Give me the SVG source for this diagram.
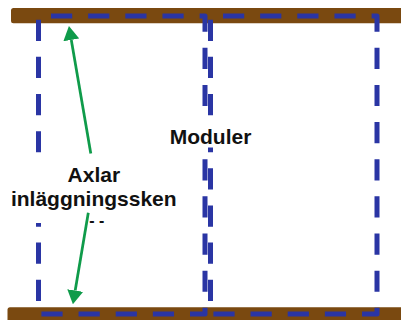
<svg xmlns="http://www.w3.org/2000/svg" width="401" height="320" viewBox="0 0 401 320">
  <style>
    .rail { fill: #7a4910; }
    .module { fill: none; stroke: #2a35a4; stroke-width: 5; stroke-dasharray: 21.2 15.95; stroke-dashoffset: 24.65; stroke-linejoin: round; }
    .pointer { fill: none; stroke: #0f9b4a; stroke-width: 2.75; }
    .label { font-family: "Liberation Sans", Arial, sans-serif; font-weight: bold; font-size: 21px; fill: #111111; text-anchor: middle; }
  </style>
  <defs>
    <marker id="head" viewBox="0 0 14 16" refX="0" refY="8" markerWidth="14" markerHeight="16" markerUnits="userSpaceOnUse" orient="auto">
      <path d="M0,0 L14,8 L0,16 z" fill="#0f9b4a"/>
    </marker>
  </defs>
  <rect width="401" height="320" fill="#ffffff"/>

  <!-- rails -->
  <g id="rail-top">
    <rect class="rail" x="11" y="8" width="395" height="15.3" rx="2.5"/>
  </g>
  <g id="rail-bottom">
    <rect class="rail" x="7.5" y="307.3" width="398" height="20" rx="2.5"/>
  </g>

  <!-- modules -->
  <g id="module-left">
    <path class="module" d="M38.5,16 H205 V314 H38.5 Z"/>
  </g>
  <g id="module-right">
    <path class="module" d="M210.5,16 H377 V314 H210.5 Z"/>
  </g>

  <!-- label boxes -->
  <g id="label-axlar">
    <rect x="9" y="153.5" width="170" height="69.5" fill="#ffffff"/>
    <text class="label" x="93.8" y="182.3">Axlar</text>
    <text class="label" x="93.8" y="206">inläggningssken</text>
    <text class="label" x="96.8" y="225.5" style="font-size:16px">- -</text>
  </g>
  <g id="label-moduler">
    <rect x="168" y="116.5" width="86" height="31" fill="#ffffff"/>
    <text class="label" x="210.5" y="144.3">Moduler</text>
  </g>

  <!-- connectors -->
  <g id="connectors">
    <line class="pointer" x1="90.8" y1="153.5" x2="71.3" y2="39.9" marker-end="url(#head)"/>
    <line class="pointer" x1="88.3" y1="212.7" x2="75.2" y2="290.5" marker-end="url(#head)"/>
  </g>
</svg>
